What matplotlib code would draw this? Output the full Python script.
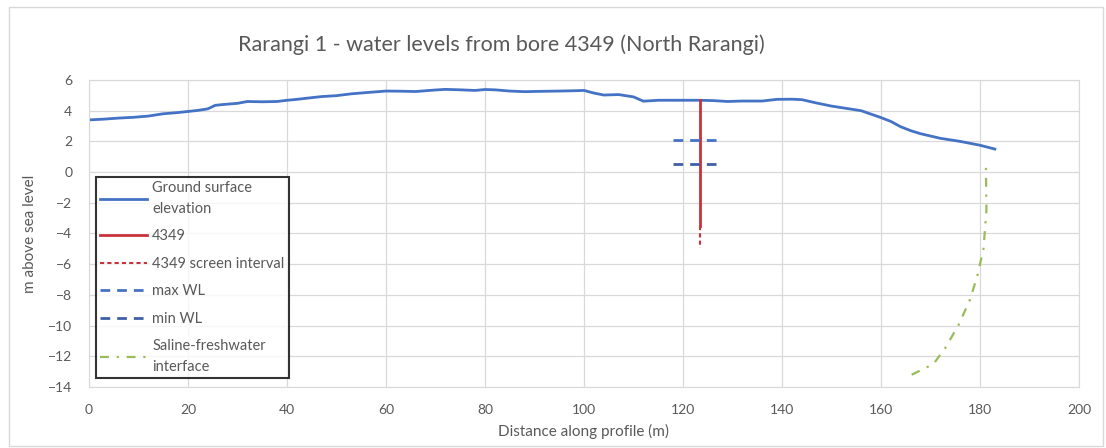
import matplotlib
matplotlib.use('Agg')
import matplotlib.pyplot as plt
from matplotlib.patches import Rectangle

plt.rcParams['font.family'] = ['Lato', 'DejaVu Sans']

# ground surface profile
ground_x = [0, 3, 6, 9, 12, 15, 18, 20, 22, 24, 25.5, 27, 30, 32, 35, 38, 40, 42,
            45, 47, 50, 53, 56, 60, 63, 66, 70, 72, 75, 78, 80, 82, 85, 88, 91, 95,
            98, 100, 102, 104, 107, 110, 112, 115, 118, 120, 123, 126, 129, 132,
            136, 139, 142, 144, 147, 150, 153, 156, 160, 162, 164, 166, 168, 172,
            176, 180, 183]
ground_y = [3.40, 3.45, 3.52, 3.57, 3.65, 3.80, 3.88, 3.95, 4.02, 4.12, 4.35, 4.40,
            4.48, 4.60, 4.58, 4.60, 4.68, 4.74, 4.85, 4.92, 4.98, 5.10, 5.18, 5.28,
            5.27, 5.25, 5.35, 5.39, 5.36, 5.32, 5.38, 5.36, 5.28, 5.24, 5.26, 5.28,
            5.30, 5.32, 5.15, 5.02, 5.05, 4.90, 4.62, 4.68, 4.68, 4.68, 4.68, 4.66,
            4.60, 4.63, 4.63, 4.74, 4.75, 4.72, 4.50, 4.30, 4.15, 4.00, 3.55, 3.30,
            2.95, 2.70, 2.50, 2.20, 2.00, 1.75, 1.50]

# bore 4349
bore_x = [123.5, 123.5]
bore_y = [4.68, -3.5]
screen_x = [123.5, 123.5]
screen_y = [-3.5, -4.95]

# water levels
wl_x = [118, 127]
max_wl = [2.12, 2.12]
min_wl = [0.53, 0.53]

# saline-freshwater interface
sal_x = [166.2, 170.6, 172.9, 175.6, 178.0, 179.5, 180.7, 181.3, 181.2]
sal_y = [-13.2, -12.5, -11.5, -10.0, -8.3, -6.7, -5.0, -2.5, 0.3]

txt = '#595959'
grid = '#d9d9d9'

fig = plt.figure(figsize=(11.06, 4.48), dpi=100)
ax = fig.add_axes([89 / 1106, 1 - 387 / 448, 990 / 1106, 307 / 448])

ax.plot(ground_x, ground_y, color='#4472C4', lw=2, label='Ground surface\nelevation')
ax.plot(bore_x, bore_y, color='#C8323C', lw=2, label='4349')
ax.plot(screen_x, screen_y, color='#C8323C', lw=1.5, dashes=(2, 1.5),
        label='4349 screen interval')
ax.plot(wl_x, max_wl, color='#4472C4', lw=2, dashes=(3.5, 2.5), label='max WL')
ax.plot(wl_x, min_wl, color='#3F5FA8', lw=2, dashes=(3.5, 2.5), label='min WL')
ax.plot(sal_x, sal_y, color='#9BBB59', lw=1.6, dashes=(4, 3.5, 1, 3.5),
        label='Saline-freshwater\ninterface')

ax.set_xlim(0, 200)
ax.set_ylim(-14, 6)
ax.set_xticks(range(0, 201, 20))
ax.set_yticks(range(-14, 7, 2))
ax.grid(True, color=grid, lw=0.9)
ax.set_axisbelow(True)
for s in ax.spines.values():
    s.set_color(grid)
ax.tick_params(length=0, labelsize=10, colors=txt, pad=12)

ax.set_xlabel('Distance along profile (m)', fontsize=11, color=txt, labelpad=6)
ax.set_ylabel('m above sea level', fontsize=11, color=txt, labelpad=8)
fig.text(0.453, 1 - 45 / 448, 'Rarangi 1 - water levels from bore 4349 (North Rarangi)',
         ha='center', va='center', fontsize=15.5, color=txt)

leg = ax.legend(loc='upper left', bbox_to_anchor=(0.007, 0.684), fontsize=10.5,
                labelcolor=txt, frameon=True, fancybox=False, handlelength=3.2,
                handletextpad=0.35, labelspacing=0.92, borderaxespad=0,
                borderpad=0.3)
for t in leg.get_texts():
    t.set_linespacing(1.6)
leg.get_frame().set_edgecolor('black')
leg.get_frame().set_linewidth(1.5)

fig.patches.append(Rectangle((9 / 1106, 2 / 448), 1094 / 1106, 439 / 448,
                             transform=fig.transFigure, fill=False,
                             edgecolor=grid, lw=1))

fig.savefig('out.png', dpi=100)
